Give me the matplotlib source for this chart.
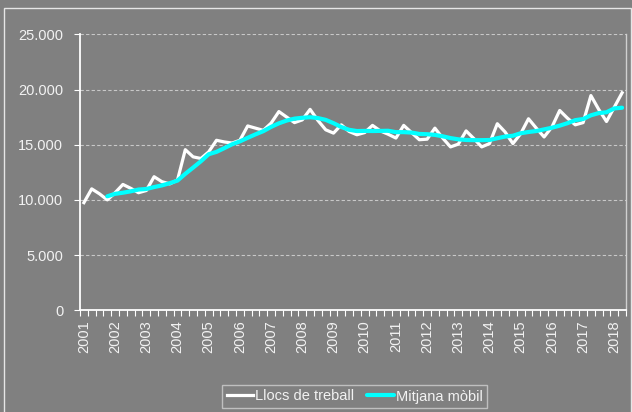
import matplotlib
matplotlib.use("Agg")
import matplotlib.pyplot as plt
import matplotlib.ticker as mticker
from matplotlib.patches import Rectangle
import numpy as np
import pandas as pd

plt.rcParams['font.family'] = ['Liberation Sans', 'DejaVu Sans']

# Quarterly jobs (2001 Q1 - 2018 Q2)
years = [str(y) for y in range(2001, 2019)]
jobs = [
    9750, 11000, 10550, 10000,    # 2001
    10650, 11400, 11050, 10650,   # 2002
    10850, 12100, 11650, 11450,   # 2003
    11800, 14550, 13900, 13750,   # 2004
    14350, 15400, 15250, 15150,   # 2005
    15400, 16700, 16500, 16300,   # 2006
    16950, 18000, 17500, 17000,   # 2007
    17250, 18200, 17200, 16350,   # 2008
    16050, 16800, 16200, 15900,   # 2009
    16100, 16750, 16250, 15950,   # 2010
    15600, 16750, 16100, 15450,   # 2011
    15500, 16500, 15600, 14800,   # 2012
    15050, 16250, 15550, 14800,   # 2013
    15100, 16900, 16150, 15100,   # 2014
    16000, 17350, 16500, 15700,   # 2015
    16600, 18100, 17400, 16800,   # 2016
    17000, 19450, 18200, 17100,   # 2017
    18400, 19700,                 # 2018
]
ma_period = 4

series = pd.Series(jobs, dtype=float)
moving_avg = series.rolling(ma_period).mean()
x = np.arange(len(series))

BG = '#808080'
TXT = '#f2f2f2'

fig = plt.figure(figsize=(6.32, 4.12), dpi=100, facecolor=BG)
W, H = 632, 412

# outer chart border
fig.patches.append(Rectangle((3.5 / W, -0.05), (631 - 3.5) / W, 1.05 - 7.5 / H + 0.0,
                             transform=fig.transFigure, fill=False,
                             edgecolor='#e6e6e6', linewidth=1.0))

ax = fig.add_axes([80 / W, 1 - 310.3 / H, (626 - 80) / W, (310.3 - 34.3) / H])
ax.set_facecolor(BG)

ax.plot(x, series, color='white', linewidth=2.3, solid_joinstyle='round',
        label='Llocs de treball', zorder=3)
ax.plot(x, moving_avg, color='#00ffff', linewidth=3.0, solid_joinstyle='round',
        solid_capstyle='round', label='Mitjana mòbil', zorder=4)

ax.set_xlim(-0.5, len(series) - 0.5)
ax.set_ylim(0, 25000)

ax.yaxis.set_major_locator(mticker.MultipleLocator(5000))
ax.yaxis.set_major_formatter(mticker.FuncFormatter(
    lambda v, p: f"{v:,.0f}".replace(',', '.')))
ax.grid(axis='y', color='#c8c8c8', linestyle=(0, (3, 2)), linewidth=0.8, zorder=1)

ax.set_xticks(x[::4])
ax.set_xticklabels(years, rotation=90)
ax.set_xticks(np.arange(-0.5, len(series)), minor=True)
ax.tick_params(axis='x', which='major', length=0, pad=7, labelsize=10.5, labelcolor=TXT)
ax.tick_params(axis='x', which='minor', length=4, width=0.8, color='white', direction='out')
ax.tick_params(axis='y', length=4, width=0.8, color='white', labelsize=10.5,
               labelcolor=TXT, pad=8)

for side in ('left', 'bottom'):
    ax.spines[side].set_color('white')
    ax.spines[side].set_linewidth(1.3)
ax.spines['right'].set_color('#d0d0d0')
ax.spines['right'].set_linewidth(1.0)
ax.spines['top'].set_visible(False)

leg = fig.legend(loc='center', bbox_to_anchor=(354.5 / W, 1 - 396.5 / H), ncol=2,
                 frameon=True, fancybox=False, edgecolor='#d0d0d0', facecolor=BG,
                 fontsize=10.5, handlelength=1.85, handletextpad=0.1,
                 columnspacing=0.9, borderpad=0.3)
leg.get_frame().set_linewidth(1.0)
for t in leg.get_texts():
    t.set_color(TXT)

fig.savefig('out.png', dpi=100, facecolor=BG)
